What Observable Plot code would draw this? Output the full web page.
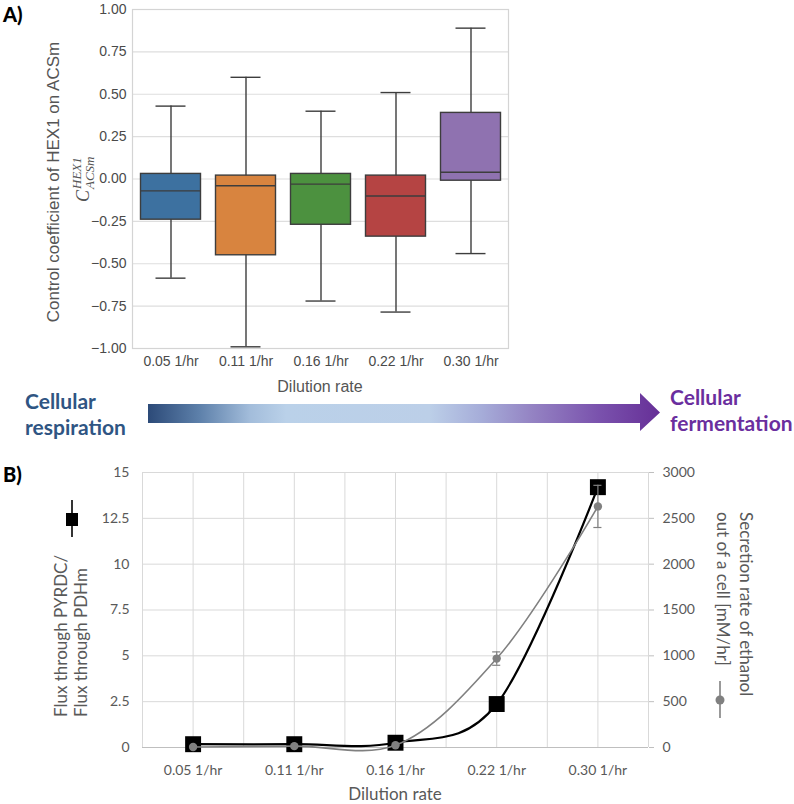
<!DOCTYPE html>
<html>
<head>
<meta charset="utf-8">
<script src="https://cdn.jsdelivr.net/npm/d3@7"></script>
<script src="https://cdn.jsdelivr.net/npm/@observablehq/plot@0.6"></script>
<style>
  html, body { margin: 0; padding: 0; background: #fff; }
  #fig { position: relative; width: 794px; height: 804px; overflow: hidden; }
  #fig svg { position: absolute; }
</style>
</head>
<body>
<div id="fig"></div>
<script>
// Dilution-rate categories shared by both panels
const rates = ["0.05 1/hr", "0.11 1/hr", "0.16 1/hr", "0.22 1/hr", "0.30 1/hr"];

// Panel A: distribution of the control coefficient C(HEX1 → ACSm) per dilution rate
const whiskerLow  = [-0.585, -0.99, -0.72, -0.785, -0.44];
const quartile1   = [-0.24, -0.45, -0.27, -0.34, -0.01];
const medians     = [-0.07, -0.04, -0.03, -0.10, 0.04];
const quartile3   = [0.03, 0.02, 0.03, 0.02, 0.39];
const whiskerHigh = [0.43, 0.60, 0.40, 0.51, 0.89];
const coefTicks   = [-1, -0.75, -0.5, -0.25, 0, 0.25, 0.5, 0.75, 1];
const boxColors   = ["#3d71a0", "#d8843f", "#4c913f", "#b54443", "#8f72b0"];

// Panel B: PYRDC/PDHm flux ratio (left axis) and ethanol secretion (right axis)
const fluxRatio   = [0.18, 0.18, 0.26, 2.37, 14.2];
const ethanolRate = [5, 15, 25, 970, 2630];
const ethanolErr  = [0, 0, 0, 73, 230];
const fluxTicks   = [0, 2.5, 5, 7.5, 10, 12.5, 15];
const ethanolTicks = [0, 500, 1000, 1500, 2000, 2500, 3000];

const fig = document.getElementById("fig");
const edge = "#3d3d3d";

// ---------- Panel A: box plots ----------
const boxRows = rates.map((rate, i) => ({
  rate, lo: whiskerLow[i], q1: quartile1[i], med: medians[i], q3: quartile3[i], hi: whiskerHigh[i]
}));

const plotA = Plot.plot({
  width: 540, height: 400,
  marginLeft: 132, marginRight: 32, marginTop: 9, marginBottom: 52,
  style: {fontFamily: "'Liberation Sans', Arial, sans-serif", fontSize: "14px", color: "#4a4a4a", background: "transparent"},
  x: {type: "band", domain: rates, padding: 0, label: null},
  y: {domain: [-1, 1], label: null},
  color: {domain: rates, range: boxColors},
  marks: [
    Plot.gridY(coefTicks, {stroke: "#dedede", strokeOpacity: 1, strokeWidth: 1.2}),
    Plot.frame({stroke: "#d4d4d4", strokeWidth: 1.2}),
    Plot.axisY(coefTicks, {tickSize: 0, tickPadding: 6, tickFormat: d3.format(".2f"), label: null}),
    Plot.axisX({tickSize: 0, tickPadding: 8, label: null}),
    Plot.ruleX(boxRows, {x: "rate", y1: "lo", y2: "hi", stroke: edge, strokeWidth: 1.4}),
    Plot.barY(boxRows, {x: "rate", y1: "q1", y2: "q3", fill: "rate", stroke: edge, strokeWidth: 1.4, insetLeft: 7.5, insetRight: 7.5}),
    Plot.tickY(boxRows, {x: "rate", y: "med", stroke: edge, strokeWidth: 1.4, insetLeft: 7.5, insetRight: 7.5}),
    Plot.tickY(boxRows, {x: "rate", y: "lo", stroke: edge, strokeWidth: 1.4, insetLeft: 22.5, insetRight: 22.5}),
    Plot.tickY(boxRows, {x: "rate", y: "hi", stroke: edge, strokeWidth: 1.4, insetLeft: 22.5, insetRight: 22.5})
  ]
});
plotA.style.left = "0px";
plotA.style.top = "0px";
fig.appendChild(plotA);

// ---------- Panel B: dual-axis smoothed lines ----------
const rowsB = rates.map((rate, i) => ({
  rate, pos: i + 0.5, flux: fluxRatio[i], eth: ethanolRate[i], err: ethanolErr[i]
}));
const errRows = rowsB.filter(d => d.err > 0);
const grey = "#808080";
const bLayout = {width: 794, height: 354, marginLeft: 142, marginRight: 146, marginTop: 22, marginBottom: 57};
const bStyle = {fontFamily: "Lato, 'Open Sans', sans-serif", fontSize: "14px", color: "#595959", background: "transparent"};

const plotB1 = Plot.plot({
  ...bLayout,
  style: bStyle,
  x: {domain: [0, rates.length], label: null},
  y: {domain: [0, 15], label: null},
  marks: [
    Plot.gridX(d3.range(0, rates.length + 0.25, 0.5), {stroke: "#d9d9d9", strokeOpacity: 1}),
    Plot.gridY(fluxTicks, {stroke: "#d9d9d9", strokeOpacity: 1}),
    Plot.ruleY([0], {stroke: "#bfbfbf"}),
    Plot.axisY(fluxTicks, {tickSize: 0, tickPadding: 13, tickFormat: d => String(d), label: null}),
    Plot.axisX(rowsB.map(d => d.pos), {tickSize: 0, tickPadding: 18, tickFormat: v => rates[Math.floor(v)], label: null}),
    Plot.line(rowsB, {x: "pos", y: "flux", curve: "cardinal", tension: 0, stroke: "#000", strokeWidth: 2.2}),
    Plot.dot(rowsB, {x: "pos", y: "flux", symbol: "square", r: 9, fill: "#000"})
  ]
});
plotB1.style.left = "0px";
plotB1.style.top = "450px";
fig.appendChild(plotB1);

const plotB2 = Plot.plot({
  ...bLayout,
  style: bStyle,
  x: {domain: [0, rates.length], axis: null},
  y: {domain: [0, 3000], label: null},
  marks: [
    Plot.axisY(ethanolTicks, {anchor: "right", tickSize: 5, tickPadding: 9, stroke: "#bfbfbf", fill: "#595959", tickFormat: d => String(d), label: null}),
    Plot.line(rowsB, {x: "pos", y: "eth", curve: "catmull-rom", stroke: grey, strokeWidth: 1.6}),
    Plot.ruleX(errRows, {x: "pos", y1: d => d.eth - d.err, y2: d => d.eth + d.err, stroke: grey, strokeWidth: 1.2}),
    Plot.ruleY(errRows, {x1: d => d.pos - 0.04, x2: d => d.pos + 0.04, y: d => d.eth - d.err, stroke: grey, strokeWidth: 1.2}),
    Plot.ruleY(errRows, {x1: d => d.pos - 0.04, x2: d => d.pos + 0.04, y: d => d.eth + d.err, stroke: grey, strokeWidth: 1.2}),
    Plot.dot(rowsB, {x: "pos", y: "eth", r: 4.2, fill: grey})
  ]
});
plotB2.style.left = "0px";
plotB2.style.top = "450px";
fig.appendChild(plotB2);

// ---------- Annotations: panel letters, axis titles, gradient arrow ----------
const ann = d3.select(fig).append("svg")
  .attr("width", 794).attr("height", 804)
  .style("left", "0px").style("top", "0px")
  .style("pointer-events", "none");

const sans = "'Liberation Sans', Arial, sans-serif";
const lato = "Lato, 'Open Sans', sans-serif";

// panel letters
ann.append("text").attr("x", 3).attr("y", 22).text("A)")
  .attr("font-family", lato).attr("font-weight", 900).attr("font-size", 20).attr("fill", "#000");
ann.append("text").attr("x", 3).attr("y", 482).text("B)")
  .attr("font-family", lato).attr("font-weight", 900).attr("font-size", 20).attr("fill", "#000");

// panel A axis titles
ann.append("text").attr("transform", "translate(59,182) rotate(-90)")
  .attr("text-anchor", "middle").attr("font-family", sans).attr("font-size", 17).attr("fill", "#555")
  .text("Control coefficient of HEX1 on ACSm");
const math = ann.append("g").attr("transform", "translate(84,170) rotate(-90)")
  .attr("font-family", "'Liberation Serif', 'DejaVu Serif', serif").attr("font-style", "italic").attr("fill", "#555");
math.append("text").attr("x", -32).attr("y", 5).attr("font-size", 18).text("C");
math.append("text").attr("x", -19).attr("y", -3).attr("font-size", 13).text("HEX1");
math.append("text").attr("x", -19).attr("y", 10).attr("font-size", 13).text("ACSm");
ann.append("text").attr("x", 320).attr("y", 392).attr("text-anchor", "middle")
  .attr("font-family", sans).attr("font-size", 16).attr("fill", "#555").text("Dilution rate");

// respiration → fermentation arrow
const grad = ann.append("defs").append("linearGradient").attr("id", "shift")
  .attr("gradientUnits", "userSpaceOnUse").attr("x1", 148).attr("x2", 660).attr("y1", 0).attr("y2", 0);
[[0, "#2c4a78"], [0.1, "#5d80aa"], [0.2, "#a3bddb"], [0.27, "#bad1e9"], [0.55, "#bccfe8"],
 [0.65, "#a6add9"], [0.75, "#9483c3"], [0.88, "#7a52ad"], [1, "#662f97"]]
  .forEach(([o, c]) => grad.append("stop").attr("offset", o).attr("stop-color", c));
ann.append("path").attr("fill", "url(#shift)")
  .attr("d", "M148,404 L640,404 L640,393 L660,412.5 L640,431 L640,423 L148,423 Z");

const leftTxt = ann.append("g").attr("font-family", lato).attr("font-weight", 700).attr("font-size", 21).attr("fill", "#2f5583");
leftTxt.append("text").attr("x", 25).attr("y", 409).text("Cellular");
leftTxt.append("text").attr("x", 25).attr("y", 435).text("respiration");
const rightTxt = ann.append("g").attr("font-family", lato).attr("font-weight", 700).attr("font-size", 21).attr("fill", "#6a2e9e");
rightTxt.append("text").attr("x", 670).attr("y", 405).text("Cellular");
rightTxt.append("text").attr("x", 670).attr("y", 431).text("fermentation");

// panel B axis titles with series keys
const bTitle = ann.append("g").attr("font-family", lato).attr("font-size", 17).attr("fill", "#595959");
bTitle.append("text").attr("transform", "translate(67,717) rotate(-90)").text("Flux through PYRDC/");
bTitle.append("text").attr("transform", "translate(87,717) rotate(-90)").text("Flux through PDHm");
ann.append("line").attr("x1", 72).attr("x2", 72).attr("y1", 500).attr("y2", 537).attr("stroke", "#000").attr("stroke-width", 1.6);
ann.append("rect").attr("x", 66).attr("y", 513).attr("width", 12).attr("height", 13).attr("fill", "#000");

bTitle.append("text").attr("transform", "translate(740,512) rotate(90)").text("Secretion rate of ethanol");
bTitle.append("text").attr("transform", "translate(717,512) rotate(90)").text("out of a cell [mM/hr]");
ann.append("line").attr("x1", 720).attr("x2", 720).attr("y1", 681).attr("y2", 718).attr("stroke", grey).attr("stroke-width", 1.6);
ann.append("circle").attr("cx", 720).attr("cy", 700).attr("r", 4.5).attr("fill", grey);

ann.append("text").attr("x", 395).attr("y", 800).attr("text-anchor", "middle")
  .attr("font-family", lato).attr("font-size", 17).attr("fill", "#595959").text("Dilution rate");
</script>
</body>
</html>
